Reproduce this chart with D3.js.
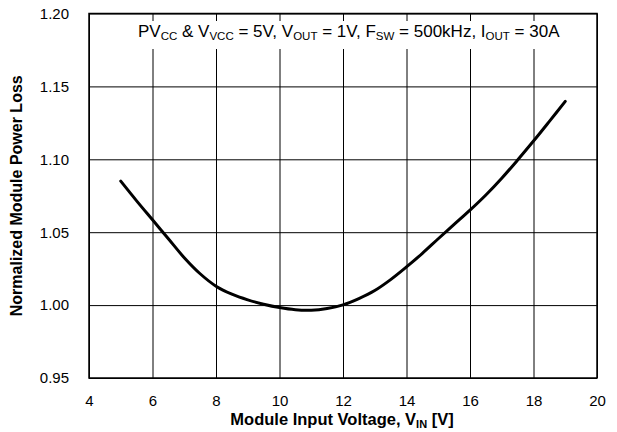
<!DOCTYPE html>
<html>
<head>
<meta charset="utf-8">
<script src="https://cdn.jsdelivr.net/npm/d3@7"></script>
<style>
  body { margin: 0; background: #fff; }
  svg text { font-family: "Liberation Sans", Arial, sans-serif; }
</style>
</head>
<body>
<script>
// chart size
const width = 617;
const height = 432;

// data
const vin = [5, 5.5, 6, 6.5, 7, 7.5, 8, 8.5, 9, 9.5, 10, 10.5, 11, 11.5, 12, 12.5, 13, 13.5, 14, 14.5, 15, 15.5, 16, 16.5, 17, 17.5, 18, 18.5, 19];
const loss = [1.085, 1.0715, 1.0585, 1.0455, 1.0325, 1.0215, 1.013, 1.0075, 1.0036, 1.0006, 0.9983, 0.9968, 0.9965, 0.9977, 1.0002, 1.0045, 1.010, 1.0175, 1.0262, 1.0355, 1.0455, 1.0553, 1.0651, 1.0755, 1.087, 1.0995, 1.1125, 1.126, 1.1397];
const xTicks = [4, 6, 8, 10, 12, 14, 16, 18, 20];
const yTicks = [0.95, 1.00, 1.05, 1.10, 1.15, 1.20];

// plot box
const pLeft = 89, pRight = 597, pTop = 13.5, pBottom = 378;

var svg = d3.select("body").append("svg")
  .attr("width", width)
  .attr("height", height);

var x = d3.scaleLinear().domain([4, 20]).range([pLeft, pRight]);
var y = d3.scaleLinear().domain([0.95, 1.20]).range([pBottom, pTop]);

// x axis + vertical grid
var xAxis = svg.append("g")
  .attr("transform", "translate(0," + pBottom + ")")
  .call(d3.axisBottom(x).tickValues(xTicks).tickFormat(d3.format("d"))
    .tickSizeInner(-(pBottom - pTop)).tickSizeOuter(0).tickPadding(17));
xAxis.select(".domain").remove();
xAxis.selectAll("line").attr("stroke", "#000").attr("stroke-width", 1);
xAxis.selectAll("text").attr("fill", "#000").style("font-size", "15px");

// y axis + horizontal grid
var yAxis = svg.append("g")
  .attr("transform", "translate(" + pLeft + ",0)")
  .call(d3.axisLeft(y).tickValues(yTicks).tickFormat(d3.format(".2f"))
    .tickSizeInner(-(pRight - pLeft)).tickSizeOuter(0).tickPadding(20));
yAxis.select(".domain").remove();
yAxis.selectAll("line").attr("stroke", "#000").attr("stroke-width", 1);
yAxis.selectAll("text").attr("fill", "#000").style("font-size", "15px");

// white box behind the conditions text
svg.append("rect")
  .attr("x", pLeft + 4).attr("y", 21)
  .attr("width", pRight - pLeft - 8).attr("height", 28)
  .attr("fill", "#fff");

// conditions text
var note = svg.append("text")
  .attr("x", 138).attr("y", 37)
  .style("font-size", "17px");
var parts = [["PV", 0], ["CC", 1], [" & V", 0], ["VCC", 1], [" = 5V, V", 0], ["OUT", 1],
  [" = 1V, F", 0], ["SW", 1], [" = 500kHz, I", 0], ["OUT", 1], [" = 30A", 0]];
parts.forEach(function (p, i) {
  var t = note.append("tspan").text(p[0]);
  if (p[1]) t.attr("dy", 3).style("font-size", "11.5px");
  else if (i > 0) t.attr("dy", -3);
});

// the curve
var line = d3.line()
  .x((d, i) => x(vin[i]))
  .y(d => y(d))
  .curve(d3.curveCatmullRom);

svg.append("path")
  .datum(loss)
  .attr("d", line)
  .attr("fill", "none")
  .attr("stroke", "#000")
  .attr("stroke-width", 3)
  .attr("stroke-linecap", "round");

// plot border
svg.append("rect")
  .attr("x", pLeft).attr("y", pTop)
  .attr("width", pRight - pLeft).attr("height", pBottom - pTop)
  .attr("fill", "none")
  .attr("stroke", "#000")
  .attr("stroke-width", 1.5);

// axis titles
var xt = svg.append("text")
  .attr("x", 342).attr("y", 425)
  .attr("text-anchor", "middle")
  .style("font-size", "16.5px").style("font-weight", "bold");
xt.append("tspan").text("Module Input Voltage, V");
xt.append("tspan").text("IN").attr("dy", 3).style("font-size", "11px");
xt.append("tspan").text(" [V]").attr("dy", -3);

svg.append("text")
  .attr("transform", "translate(22," + (pTop + pBottom) / 2 + ") rotate(-90)")
  .attr("text-anchor", "middle")
  .style("font-size", "16px").style("font-weight", "bold")
  .text("Normalized Module Power Loss");
</script>
</body>
</html>
